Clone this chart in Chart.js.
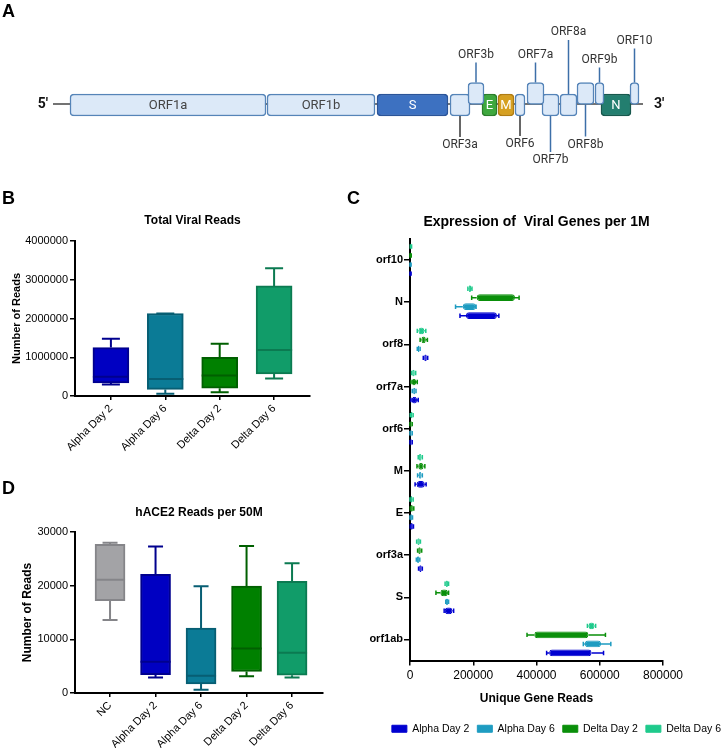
<!DOCTYPE html>
<html>
<head>
<meta charset="utf-8">
<script src="https://cdn.jsdelivr.net/npm/chart.js@4.4.1/dist/chart.umd.min.js"></script>
<style>
  html, body { margin: 0; padding: 0; background: #fff; }
  #page { position: relative; width: 721px; height: 748px; overflow: hidden; font-family: "Liberation Sans", Arial, sans-serif; }
  canvas { position: absolute; }
  .letter { position: absolute; font-weight: bold; font-size: 18px; line-height: 18px; color: #000; }
</style>
</head>
<body>
<div id="page">
  <canvas id="genome" width="721" height="180" style="left:0px;top:0px"></canvas>
  <canvas id="totalReads" width="330" height="265" style="left:0px;top:195px"></canvas>
  <canvas id="geneExpr" width="389" height="553" style="left:340px;top:195px"></canvas>
  <canvas id="hace2" width="340" height="288" style="left:0px;top:460px"></canvas>
  <div class="letter" style="left:2px;top:2px">A</div>
  <div class="letter" style="left:2px;top:189px">B</div>
  <div class="letter" style="left:347px;top:189px">C</div>
  <div class="letter" style="left:2px;top:479px">D</div>
</div>
<script>
// ---- data ----
// A: genome map (diagram positions, left to right)
const genes      = ["ORF1a", "ORF1b", "S", "ORF3a", "ORF3b", "E", "M", "ORF6", "ORF7a", "ORF7b", "ORF8a", "ORF8b", "ORF9b", "N", "ORF10"];
const geneStart  = [70, 267, 377, 450, 468, 482, 498, 515, 527, 542, 560, 577, 595, 601, 630];
const geneEnd    = [266, 375, 448, 470, 484, 497, 514, 525, 544, 559, 577, 594, 604, 631, 639];
const geneTrack  = [0, 0, 0, 0, 1, 0, 0, 0, 1, 0, 0, 1, 1, 0, 1];
const genomeSpan = [53, 643];

// B: total viral reads, [min, q1, median, q3, max]
const groupsB = ["Alpha Day 2", "Alpha Day 6", "Delta Day 2", "Delta Day 6"];
const totalReads = [
  [300000, 340000, 500000, 1250000, 1480000],
  [60000, 170000, 440000, 2130000, 2130000],
  [100000, 200000, 530000, 1000000, 1350000],
  [450000, 570000, 1190000, 2840000, 3300000]
];
const totalTicks = [0, 1000000, 2000000, 3000000, 4000000];

// C: viral genes per 1M, [min, q1, median, q3, max] for each gene
const viralGenes = ["orf10", "N", "orf8", "orf7a", "orf6", "M", "E", "orf3a", "S", "orf1ab"];
const alphaDay2 = [
  [0, 500, 1500, 2500, 3500], [158000, 177000, 215000, 275000, 281000], [42000, 45000, 49000, 53000, 56000],
  [3000, 6000, 13000, 22000, 26000], [0, 1000, 3000, 5000, 7000], [16000, 21000, 32000, 47000, 51000],
  [1000, 2000, 5000, 9000, 11000], [27000, 29000, 33000, 37000, 39000], [108000, 110000, 120000, 134000, 138000],
  [432000, 440000, 500000, 574000, 612000]
];
const alphaDay6 = [
  [0, 500, 1500, 2500, 3500], [144000, 167000, 185000, 209000, 209000], [23000, 25000, 27000, 30000, 32000],
  [7000, 10000, 13000, 17000, 19000], [0, 1000, 3000, 5000, 7000], [24000, 28000, 32000, 36000, 39000],
  [0, 1000, 3000, 6000, 8000], [20000, 22000, 25000, 29000, 31000], [113000, 114000, 117000, 120000, 122000],
  [548000, 553000, 575000, 604000, 635000]
];
const deltaDay2 = [
  [0, 1000, 2000, 3000, 4000], [195000, 211000, 270000, 332000, 345000], [32000, 36000, 43000, 50000, 55000],
  [3000, 6000, 12000, 19000, 23000], [0, 1000, 3000, 5000, 7000], [22000, 26000, 34000, 43000, 47000],
  [1000, 2000, 5000, 9000, 12000], [24000, 26000, 30000, 34000, 37000], [82000, 96000, 108000, 120000, 122000],
  [370000, 393000, 470000, 564000, 618000]
];
const deltaDay6 = [
  [1000, 2000, 3000, 4000, 5000], [183000, 186000, 190000, 193000, 196000], [23000, 27000, 35000, 45000, 50000],
  [5000, 7000, 11000, 15000, 18000], [1000, 3000, 5000, 8000, 10000], [26000, 28000, 32000, 36000, 39000],
  [0, 2000, 4000, 7000, 10000], [21000, 23000, 27000, 31000, 33000], [111000, 113000, 117000, 120000, 122000],
  [561000, 565000, 574000, 583000, 587000]
];

// D: hACE2 reads per 50M, [min, q1, median, q3, max]
const groupsD = ["NC", "Alpha Day 2", "Alpha Day 6", "Delta Day 2", "Delta Day 6"];
const hace2Reads = [
  [13600, 17200, 21100, 27700, 28000],
  [2900, 3400, 5800, 22100, 27300],
  [600, 1700, 3200, 12100, 19900],
  [3100, 4000, 8300, 19900, 27400],
  [2900, 3300, 7500, 20800, 24200]
];

// ---- styles ----
Chart.defaults.font.family = '"Liberation Sans", Arial, sans-serif';
Chart.defaults.color = "#000";

const boxFill = { "NC": "#a3a3a6", "Alpha Day 2": "#0000c2", "Alpha Day 6": "#0b7b96", "Delta Day 2": "#008000", "Delta Day 6": "#119c69" };
const boxEdge = { "NC": "#858589", "Alpha Day 2": "#00008e", "Alpha Day 6": "#075e73", "Delta Day 2": "#005f00", "Delta Day 6": "#0b7a51" };
const lightCol = { "Alpha Day 2": "#0000d0", "Alpha Day 6": "#1e9cc1", "Delta Day 2": "#0a8f0a", "Delta Day 6": "#1fca8c" };

const geneFill = { S: "#3d71c1", E: "#3ea83e", M: "#d6a021", N: "#237e6f" };
const geneEdge = { S: "#2b5498", E: "#2a7d2a", M: "#b07c12", N: "#17584d" };
const insideLabels = { ORF1a: "#444", ORF1b: "#444", S: "#fff", E: "#fff", M: "#fff", N: "#fff" };
const callouts = {
  ORF3b: { dir: -1, len: 20, color: "#3d6fa8" },
  ORF7a: { dir: -1, len: 20, color: "#3d6fa8" },
  ORF8a: { dir: -1, len: 54, color: "#3d6fa8" },
  ORF9b: { dir: -1, len: 15, color: "#3d6fa8" },
  ORF10: { dir: -1, len: 34, color: "#3d6fa8" },
  ORF3a: { dir: 1, len: 21, color: "#333" },
  ORF6:  { dir: 1, len: 20, color: "#333" },
  ORF7b: { dir: 1, len: 36, color: "#3d6fa8" },
  ORF8b: { dir: 1, len: 32, color: "#3d6fa8" }
};

// whiskers + median on top of floating bars
const boxPlugin = {
  id: "boxWhiskers",
  afterDatasetsDraw(chart) {
    const ctx = chart.ctx;
    const horiz = chart.options.indexAxis === "y";
    chart.data.datasets.forEach(function (ds, di) {
      const meta = chart.getDatasetMeta(di);
      if (!ds.stats || meta.hidden) return;
      const vScale = chart.scales[meta.vAxisID];
      meta.data.forEach(function (bar, i) {
        const p = ds.stats[i].map(v => vScale.getPixelForValue(v));
        const props = bar.getProps(["x", "y", "width", "height"], true);
        const half = (horiz ? props.height : props.width) / 2;
        const cap = half * ds.capRatio;
        const c = horiz ? props.y : props.x;
        ctx.save();
        ctx.strokeStyle = Array.isArray(ds.lineColor) ? ds.lineColor[i] : ds.lineColor;
        ctx.lineWidth = ds.whiskerWidth;
        ctx.beginPath();
        const seg = function (a1, b1, a2, b2) {
          if (horiz) { ctx.moveTo(a1, b1); ctx.lineTo(a2, b2); }
          else { ctx.moveTo(b1, a1); ctx.lineTo(b2, a2); }
        };
        seg(p[1], c, p[0], c); seg(p[0], c - cap, p[0], c + cap);
        seg(p[3], c, p[4], c); seg(p[4], c - cap, p[4], c + cap);
        if (ds.showMedian) seg(p[2], c - half, p[2], c + half);
        ctx.stroke();
        ctx.restore();
      });
    });
  }
};

// backbone, labels and callouts of the genome map
const genomePlugin = {
  id: "genomeMap",
  beforeDatasetsDraw(chart) {
    const ctx = chart.ctx, xs = chart.scales.x, ys = chart.scales.y;
    const y = ys.getPixelForValue(0) - 1;
    ctx.save();
    ctx.strokeStyle = "#444";
    ctx.lineWidth = 1.5;
    ctx.beginPath();
    ctx.moveTo(xs.getPixelForValue(genomeSpan[0]), y);
    ctx.lineTo(xs.getPixelForValue(genomeSpan[1]), y);
    ctx.stroke();
    ctx.fillStyle = "#111";
    ctx.font = "bold 14px Roboto, 'Liberation Sans', sans-serif";
    ctx.textBaseline = "middle";
    ctx.textAlign = "right";
    ctx.fillText("5\u2032", xs.getPixelForValue(genomeSpan[0]) - 5, y);
    ctx.textAlign = "left";
    ctx.fillText("3\u2032", xs.getPixelForValue(genomeSpan[1]) + 11, y);
    ctx.restore();
  },
  afterDatasetsDraw(chart) {
    const ctx = chart.ctx;
    ctx.save();
    ctx.textAlign = "center";
    ctx.textBaseline = "middle";
    chart.data.datasets.forEach(function (ds, di) {
      const meta = chart.getDatasetMeta(di);
      meta.data.forEach(function (bar, i) {
        const name = ds.names[i];
        const b = bar.getProps(["x", "y", "base", "height"], true);
        const cx = (b.x + b.base) / 2;
        if (insideLabels[name]) {
          ctx.fillStyle = insideLabels[name];
          ctx.font = "13px Roboto, 'Liberation Sans', sans-serif";
          ctx.fillText(name, cx, b.y + 1);
        }
        const co = callouts[name];
        if (co) {
          const y0 = b.y + co.dir * b.height / 2;
          const y1 = y0 + co.dir * co.len;
          ctx.strokeStyle = co.color;
          ctx.lineWidth = 1.5;
          ctx.beginPath();
          ctx.moveTo(cx, y0);
          ctx.lineTo(cx, y1);
          ctx.stroke();
          ctx.fillStyle = "#333";
          ctx.font = "12px Roboto, 'Liberation Sans', sans-serif";
          ctx.fillText(name, cx, y1 + co.dir * 8);
        }
      });
    });
    ctx.restore();
  }
};

function axisStyle(extra) {
  return Object.assign({
    grid: { drawOnChartArea: false, offset: false, color: "#000", lineWidth: 1.5, tickLength: 5 },
    border: { color: "#000", width: 2 }
  }, extra);
}

// ---- A: genome map ----
function trackData(track) {
  const idx = genes.map((g, i) => i).filter(i => geneTrack[i] === track);
  return {
    data: idx.map(i => ({ x: [geneStart[i], geneEnd[i]], y: track })),
    names: idx.map(i => genes[i]),
    backgroundColor: idx.map(i => geneFill[genes[i]] || "#dce9f8"),
    borderColor: idx.map(i => geneEdge[genes[i]] || "#5584b8"),
    borderWidth: 1.5,
    borderRadius: 4,
    borderSkipped: false,
    barThickness: 22,
    grouped: false
  };
}

new Chart(document.getElementById("genome"), {
  type: "bar",
  data: { datasets: [trackData(1), trackData(0)] },
  options: {
    indexAxis: "y",
    responsive: false,
    animation: false,
    layout: { padding: 0 },
    plugins: { legend: { display: false }, tooltip: { enabled: false } },
    scales: {
      x: { type: "linear", min: 0, max: 721, display: false },
      y: { type: "linear", min: -6.52, max: 9.13, display: false, offset: false }
    }
  },
  plugins: [genomePlugin]
});

// ---- B / D: vertical box plots ----
function boxChart(id, groups, stats, ticks, opt) {
  return new Chart(document.getElementById(id), {
    type: "bar",
    data: {
      datasets: [{
        data: stats.map((s, i) => ({ x: i, y: [s[1], s[3]] })),
        stats: stats,
        backgroundColor: groups.map(g => boxFill[g]),
        borderColor: groups.map(g => boxEdge[g]),
        lineColor: groups.map(g => boxEdge[g]),
        borderWidth: 2,
        borderSkipped: false,
        barThickness: opt.barWidth,
        whiskerWidth: 2,
        capRatio: 0.5,
        showMedian: true
      }]
    },
    options: {
      responsive: false,
      animation: false,
      layout: { padding: { left: 0, right: opt.right, top: 0, bottom: 0 } },
      plugins: {
        legend: { display: false },
        tooltip: { enabled: false },
        title: {
          display: true, text: opt.title, fullSize: false, color: "#000",
          font: { size: 12, weight: "bold" }, padding: opt.titlePad
        }
      },
      scales: {
        x: axisStyle({
          type: "linear", offset: false, min: opt.xmin, max: opt.xmax,
          afterBuildTicks: s => { s.ticks = groups.map((g, i) => ({ value: i })); },
          afterFit: s => { s.height = opt.xh; },
          ticks: { autoSkip: false, minRotation: 45, maxRotation: 45, padding: 2, font: { size: 11 }, callback: v => groups[v] },
          grid: { drawOnChartArea: false, offset: false, color: "#000", lineWidth: 1.5, tickLength: 4 }
        }),
        y: axisStyle({
          min: ticks[0], max: ticks[ticks.length - 1],
          afterBuildTicks: s => { s.ticks = ticks.map(v => ({ value: v })); },
          afterFit: s => { s.width = 75; },
          ticks: { padding: 2, font: { size: 11 }, callback: v => String(v) },
          title: { display: true, text: "Number of Reads", font: { size: opt.ylabelSize, weight: "bold" }, padding: { top: opt.ylabelPad, bottom: 0 } }
        })
      }
    },
    plugins: [boxPlugin]
  });
}

boxChart("totalReads", groupsB, totalReads, totalTicks, {
  title: "Total Viral Reads", titlePad: { top: 18, bottom: 13.6 }, right: 20,
  xmin: -0.66, xmax: 3.66, xh: 64, barWidth: 36, ylabelSize: 11, ylabelPad: 10
});

boxChart("hace2", groupsD, hace2Reads, [0, 10000, 20000, 30000], {
  title: "hACE2 Reads per 50M", titlePad: { top: 45, bottom: 12.6 }, right: 17,
  xmin: -0.77, xmax: 4.68, xh: 55, barWidth: 30, ylabelSize: 12, ylabelPad: 20
});

// ---- C: horizontal box plots (top to bottom within each gene) ----
const seriesC = [["Delta Day 6", deltaDay6], ["Delta Day 2", deltaDay2], ["Alpha Day 6", alphaDay6], ["Alpha Day 2", alphaDay2]];

new Chart(document.getElementById("geneExpr"), {
  type: "bar",
  data: {
    labels: viralGenes,
    datasets: seriesC.map(([name, stats]) => ({
      label: name,
      data: stats.map(s => [s[1], s[3]]),
      stats: stats,
      backgroundColor: lightCol[name],
      borderColor: lightCol[name],
      lineColor: lightCol[name],
      borderWidth: 1,
      borderRadius: 3,
      borderSkipped: false,
      categoryPercentage: 0.855,
      barPercentage: 0.75,
      whiskerWidth: 1.5,
      capRatio: 0.65,
      showMedian: false
    }))
  },
  options: {
    indexAxis: "y",
    responsive: false,
    animation: false,
    layout: { padding: { left: 0, right: 0, top: 0, bottom: 4 } },
    plugins: {
      tooltip: { enabled: false },
      title: {
        display: true, text: "Expression of  Viral Genes per 1M", fullSize: false, color: "#000",
        font: { size: 14, weight: "bold" }, padding: { top: 18.6, bottom: 8.6 }
      },
      legend: {
        display: true, position: "bottom", align: "end", reverse: true,
        labels: { boxWidth: 15, boxHeight: 7, padding: 8, color: "#000", font: { size: 10.5 } }
      }
    },
    scales: {
      x: axisStyle({
        type: "linear", min: 0, max: 800000,
        afterBuildTicks: s => { s.ticks = [0, 200000, 400000, 600000, 800000].map(v => ({ value: v })); },
        afterFit: s => { s.height = 55; },
        ticks: { padding: 3, font: { size: 12 }, callback: v => String(v) },
        title: { display: true, text: "Unique Gene Reads", font: { size: 12, weight: "bold" }, padding: { top: 8, bottom: 10 } }
      }),
      y: axisStyle({
        type: "category", offset: true,
        afterFit: s => { s.width = 70; },
        ticks: { padding: 1, font: { size: 11, weight: "bold" } },
        grid: { drawOnChartArea: false, offset: false, color: "#000", lineWidth: 1.5, tickLength: 6 }
      }),
      pad: {
        type: "linear", position: "right", display: true,
        grid: { display: false }, border: { display: false }, ticks: { display: false },
        afterFit: s => { s.width = 66; }
      }
    }
  },
  plugins: [boxPlugin]
});
</script>
</body>
</html>
